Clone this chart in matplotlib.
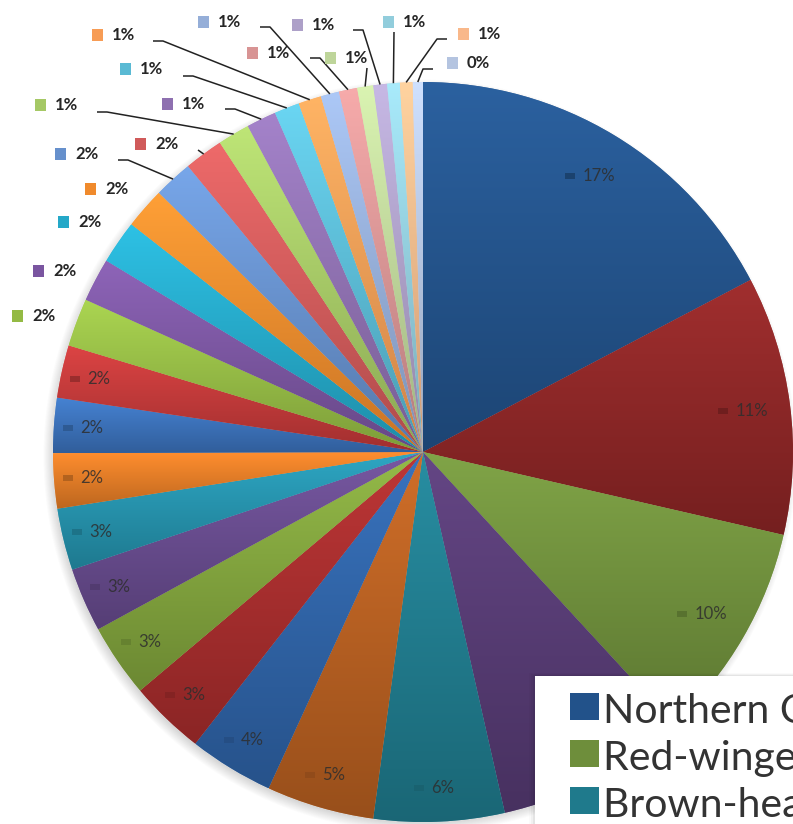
import numpy as np
import matplotlib
matplotlib.use("Agg")
import matplotlib.pyplot as plt
from matplotlib.patches import Rectangle
from matplotlib.colors import to_rgb

W, H = 793, 824

species = [
    "Northern Cardinal", "American Robin", "Red-winged Blackbird", "Common Grackle",
    "Brown-headed Cowbird", "European Starling", "Mourning Dove", "House Sparrow",
    "American Goldfinch", "Blue Jay", "Song Sparrow", "House Finch",
    "Black-capped Chickadee", "Tufted Titmouse", "Downy Woodpecker", "Dark-eyed Junco",
    "White-breasted Nuthatch", "Carolina Wren", "Gray Catbird", "Northern Mockingbird",
    "Red-bellied Woodpecker", "Chipping Sparrow", "Cedar Waxwing", "American Crow",
    "Eastern Bluebird", "Tree Swallow", "Hairy Woodpecker", "Northern Flicker",
    "White-throated Sparrow", "Purple Finch", "Baltimore Oriole",
]
share = [17.3, 11.3, 9.55, 8.3, 5.7, 4.7, 3.7, 3.3, 3.2, 2.8, 2.7, 2.4, 2.4, 2.3,
         2.1, 1.9, 1.9, 1.8, 1.7, 1.7, 1.4, 1.3, 1.1, 1.0, 0.8, 0.8, 0.7, 0.6,
         0.55, 0.55, 0.45]
colors = [
    "#22528a", "#8b2525", "#6e8e3b", "#553a72", "#1f7a8c", "#b55e20",
    "#2e62a5", "#a52c2c", "#80a23c", "#664a8c", "#2490aa", "#e07a25",
    "#3a70b8", "#c03838", "#94ba44", "#7a55a0", "#24a8c8", "#f08a2c",
    "#6690cc", "#d05a5a", "#a5c865", "#8e70b0", "#5abad4", "#f79c55",
    "#95aed8", "#d89494", "#bed59a", "#ada0c8", "#92cddc", "#f9b88a",
    "#b4c4e0",
]
legend_items = [0, 2, 4]

# label layout in pixel units (x right, y down): marker left, row centre, leader start
outside_labels = {
    14: (12, 316, None), 15: (33, 271, None), 16: (58, 222, None),
    17: (85, 189, None), 18: (55, 154, (118, 160)), 19: (135, 144, (198, 150)),
    20: (35, 105, (97, 112)), 21: (162, 104, (225, 109)), 22: (120, 69, (183, 76)),
    23: (92, 35, (153, 41)), 24: (198, 22, (260, 27)), 25: (247, 53, (310, 58)),
    26: (325, 58, (367, 68)), 27: (292, 25, (353, 30)), 28: (383, 22, (394, 32)),
    29: (458, 34, (447, 39)), 30: (447, 63, (433, 69)),
}

FONT = ["Lato", "DejaVu Sans"]
CX, CY, R = 423, H - 452, 370


def Y(y):
    return H - y


fig = plt.figure(figsize=(W / 100, H / 100), dpi=100)
ax = fig.add_axes([0, 0, 1, 1])
ax.set_axis_off()

# soft outer shadow under the pie
gx, gy = np.meshgrid(np.arange(W) + 0.5, np.arange(H) + 0.5)
d = np.hypot(gx - (CX - 3), (H - gy) - (CY - 4))
sh_alpha = 0.32 * np.clip((R + 7 - d) / 14, 0, 1)
shadow = np.zeros((H, W, 4))
shadow[..., :3] = 0.35
shadow[..., 3] = sh_alpha
ax.imshow(shadow, extent=[0, W, 0, H], origin="upper", zorder=0, aspect="auto",
          interpolation="bilinear")

wedges, _ = ax.pie(share, colors=colors, startangle=90, counterclock=False,
                   center=(CX, CY), radius=R,
                   wedgeprops=dict(linewidth=0.6, edgecolor=(1, 1, 1, 0.3)))

# vertical shading inside each slice
for w, c in zip(wedges, colors):
    base = np.array(to_rgb(c))
    top = np.clip(base * 1.12 + 0.02, 0, 1)
    bot = base * 0.84
    t = np.linspace(0, 1, 256)[:, None, None]
    grad = top[None, None, :] * (1 - t) + bot[None, None, :] * t
    ext = w.get_path().get_extents()
    im = ax.imshow(grad, extent=[ext.x0, ext.x1, ext.y0, ext.y1], origin="upper",
                   aspect="auto", zorder=1.5, interpolation="bilinear")
    im.set_clip_path(w)

total = sum(share)
pcts = [v / total * 100 for v in share]


def mid_angle(w):
    return np.deg2rad((w.theta1 + w.theta2) / 2)


# labels inside the larger slices
for i in range(14):
    w = wedges[i]
    a = mid_angle(w)
    rr = R * (0.87 if pcts[i] > 8 else 0.91)
    x, y = CX + rr * np.cos(a), CY + rr * np.sin(a)
    mk = np.array(to_rgb(colors[i])) * 0.8
    ax.add_patch(Rectangle((x - 24, y - 3), 10, 6, facecolor=mk, edgecolor="none",
                           zorder=3))
    ax.text(x - 7, y, f"{pcts[i]:.0f}%", fontsize=12, family=FONT,
            color="#2e2e2e", alpha=0.85, ha="left", va="center", zorder=3)

# labels outside the thin slices, with leader lines
for i, (mx, my, start) in outside_labels.items():
    w = wedges[i]
    a = mid_angle(w)
    ex, ey = CX + R * np.cos(a), CY + R * np.sin(a)
    ax.add_patch(Rectangle((mx, Y(my) - 6), 11, 12, facecolor=colors[i],
                           edgecolor="none", zorder=4))
    ax.text(mx + 20, Y(my), f"{pcts[i]:.0f}%", fontsize=12, family=FONT,
            fontweight="bold", color="#262626", ha="left", va="center", zorder=4)
    if start is not None:
        sx, sy = start[0], Y(start[1])
        if abs(ex - sx) > 15:
            xs = [sx, sx + 10 * np.sign(ex - sx), ex]
            ys = [sy, sy, ey]
        else:
            xs, ys = [sx, ex], [sy, ey]
        ax.plot(xs, ys, color="#222222", lw=1.1, zorder=4, solid_capstyle="butt")

# legend panel (runs past the right and bottom edges)
LX, LY = 535, 676
for k, al in enumerate([0.05, 0.035, 0.02]):
    ax.add_patch(Rectangle((LX - 2 - k * 2, Y(H + 20)), 300, (H + 20) - LY + 1 + k,
                           facecolor="black", alpha=al, edgecolor="none", zorder=5))
ax.add_patch(Rectangle((LX, Y(H + 20)), 300, H + 20 - LY, facecolor="white",
                       edgecolor="none", zorder=5.5))
for row, i in enumerate(legend_items):
    top = 693 + 47 * row
    ax.add_patch(Rectangle((570, Y(top + 27)), 29, 27, facecolor=colors[i],
                           edgecolor="none", zorder=6))
    ax.text(603, Y(top + 30), species[i], fontsize=29.5, family=FONT, color="#333333",
            ha="left", va="baseline", zorder=6)

ax.set_xlim(0, W)
ax.set_ylim(0, H)
fig.savefig("out.png", dpi=100)
